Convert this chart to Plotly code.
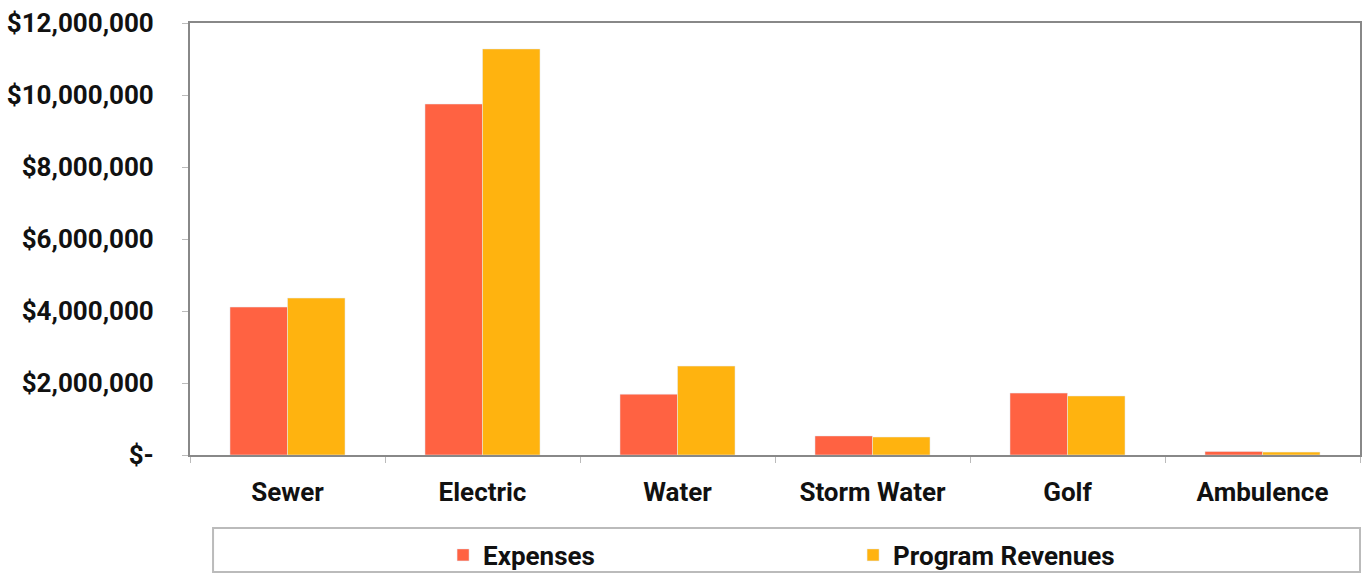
import plotly.graph_objects as go

categories = ["Sewer", "Electric", "Water", "Storm Water", "Golf", "Ambulence"]
expenses = [4110000, 9750000, 1690000, 530000, 1720000, 100000]
revenues = [4360000, 11280000, 2470000, 500000, 1640000, 80000]
tick_vals = [0, 2000000, 4000000, 6000000, 8000000, 10000000, 12000000]
tick_text = ["$-", "$2,000,000", "$4,000,000", "$6,000,000", "$8,000,000", "$10,000,000", "$12,000,000"]

font = dict(family="Roboto", size=26, color="#111111", weight="bold")

fig = go.Figure()
fig.add_trace(go.Bar(x=categories, y=expenses, name="Expenses", marker_color="#FF6242"))
fig.add_trace(go.Bar(x=categories, y=revenues, name="Program Revenues", marker_color="#FFB30F"))

fig.update_layout(
    width=1370, height=575,
    margin=dict(l=190, r=10, t=23, b=120),
    paper_bgcolor="white", plot_bgcolor="white",
    barmode="group", bargap=0.41, bargroupgap=0,
    font=font,
    showlegend=True,
    legend=dict(orientation="h", x=0.2163, xanchor="left", yref="container", y=0.0348, yanchor="middle",
                entrywidth=365, entrywidthmode="pixels",
                font=dict(family="Roboto", size=26, color="#111111", weight="bold"),
                itemwidth=30, bgcolor="rgba(0,0,0,0)"),
    shapes=[dict(type="rect", xref="paper", yref="paper", x0=0.0197, x1=1.0, y0=-0.271, y1=-0.169,
                 line=dict(color="#BBBBBB", width=2), fillcolor="rgba(0,0,0,0)", layer="below")],
)
fig.update_yaxes(range=[0, 12000000], tickvals=tick_vals, ticktext=tick_text,
                 showgrid=False, showline=True, linecolor="#888888", linewidth=2,
                 mirror=True, ticks="outside", ticklen=6, tickcolor="#BBBBBB",
                 zeroline=False, ticklabelstandoff=23, automargin=False)
fig.update_xaxes(showgrid=False, showline=True, linecolor="#888888", linewidth=2,
                 mirror=True, ticks="outside", ticklen=6, tickcolor="#BBBBBB",
                 tickson="boundaries", ticklabelstandoff=13, automargin=False)

fig.write_html("out.html")
